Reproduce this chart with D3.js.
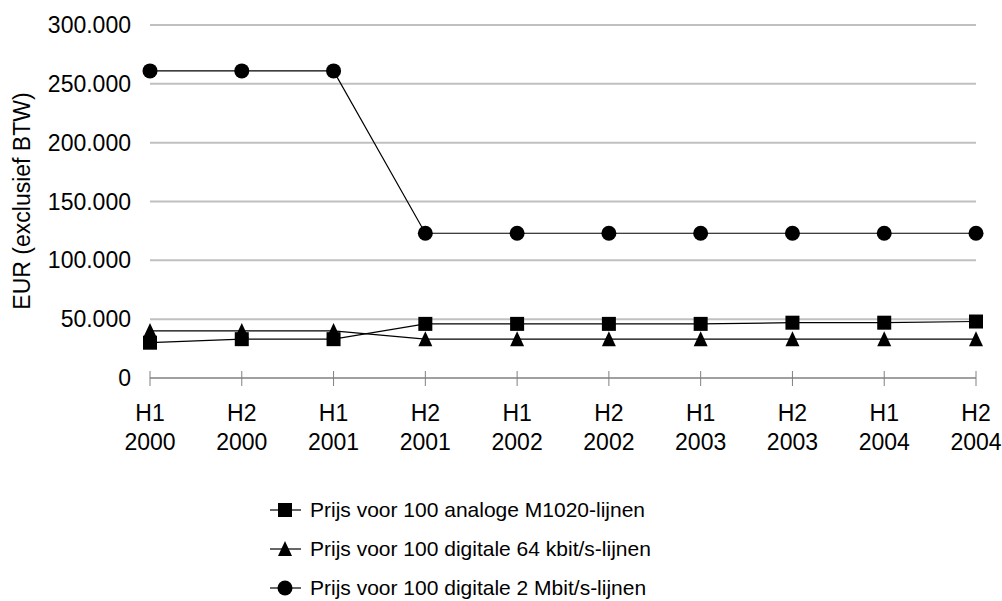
<!DOCTYPE html>
<html><head><meta charset="utf-8">
<script src="https://cdn.jsdelivr.net/npm/d3@7"></script>
<style>body{margin:0;background:#fff}svg{display:block;font-family:"Liberation Sans",Arial,sans-serif}</style>
</head><body><svg id="c" width="1002" height="601"></svg>
<script>
const categories = ["H1 2000","H2 2000","H1 2001","H2 2001","H1 2002","H2 2002","H1 2003","H2 2003","H1 2004","H2 2004"];
const analoge = [30000,33000,33000,46000,46000,46000,46000,47000,47000,48000];
const digitale64 = [40000,40000,40000,33000,33000,33000,33000,33000,33000,33000];
const digitale2M = [261000,261000,261000,123000,123000,123000,123000,123000,123000,123000];
const yTicks = [0,50000,100000,150000,200000,250000,300000];
const seriesNames = ["Prijs voor 100 analoge M1020-lijnen","Prijs voor 100 digitale 64 kbit/s-lijnen","Prijs voor 100 digitale 2 Mbit/s-lijnen"];
const yTitle = "EUR (exclusief BTW)";

const series = [
  {name: seriesNames[0], values: analoge, marker: "square"},
  {name: seriesNames[1], values: digitale64, marker: "triangle"},
  {name: seriesNames[2], values: digitale2M, marker: "circle"}
];

const svg = d3.select("#c");
const x = d3.scalePoint().domain(categories).range([150, 976]);
const y = d3.scaleLinear().domain([0, 300000]).range([378, 25]);
const fmt = v => v === 0 ? "0" : d3.format(",")(v).replace(/,/g, ".");
const FS = 23;

// gridlines
svg.append("g").selectAll("line").data(yTicks.filter(t => t > 0)).join("line")
  .attr("x1", 150).attr("x2", 976)
  .attr("y1", d => y(d)).attr("y2", d => y(d))
  .attr("stroke", "#c0c0c0").attr("stroke-width", 2);

// y labels
svg.append("g").selectAll("text").data(yTicks).join("text")
  .attr("x", 131).attr("y", d => y(d)).attr("dy", "0.35em")
  .attr("text-anchor", "end").attr("font-size", FS).attr("fill", "#000")
  .text(fmt);

// x axis
svg.append("line").attr("x1", 150).attr("x2", 976).attr("y1", 378).attr("y2", 378)
  .attr("stroke", "#808080").attr("stroke-width", 1.5);
svg.append("g").selectAll("line").data(categories).join("line")
  .attr("x1", d => x(d)).attr("x2", d => x(d)).attr("y1", 371).attr("y2", 386)
  .attr("stroke", "#808080").attr("stroke-width", 1);
const xl = svg.append("g").selectAll("text").data(categories).join("text")
  .attr("text-anchor", "middle").attr("font-size", FS).attr("fill", "#000");
xl.append("tspan").attr("x", d => x(d)).attr("y", 421).text(d => d.split(" ")[0]);
xl.append("tspan").attr("x", d => x(d)).attr("y", 450).text(d => d.split(" ")[1]);

// y title
svg.append("text").attr("transform", "translate(22,201) rotate(-90)")
  .attr("text-anchor", "middle").attr("dy", "0.35em").attr("font-size", FS).text(yTitle);

function drawMarker(g, type, cx, cy) {
  if (type === "square") g.append("rect").attr("x", cx - 7).attr("y", cy - 7).attr("width", 14).attr("height", 14).attr("fill", "#000");
  else if (type === "triangle") g.append("path").attr("d", `M${cx},${cy-8}L${cx+7},${cy+7}L${cx-7},${cy+7}Z`).attr("fill", "#000");
  else g.append("circle").attr("cx", cx).attr("cy", cy).attr("r", 7.5).attr("fill", "#000");
}

const line = d3.line().x((d, i) => x(categories[i])).y(d => y(d));
series.forEach(s => {
  const g = svg.append("g");
  g.append("path").attr("d", line(s.values)).attr("fill", "none").attr("stroke", "#000").attr("stroke-width", 1.2);
  s.values.forEach((v, i) => drawMarker(g, s.marker, x(categories[i]), y(v)));
});

// legend
const legY = [510, 549, 588];
series.forEach((s, i) => {
  const g = svg.append("g");
  g.append("line").attr("x1", 270).attr("x2", 301).attr("y1", legY[i]).attr("y2", legY[i]).attr("stroke", "#000").attr("stroke-width", 1.2);
  drawMarker(g, s.marker, 285, legY[i]);
  g.append("text").attr("x", 310).attr("y", legY[i]).attr("dy", "0.35em").attr("font-size", 21).text(s.name);
});
</script></body></html>
